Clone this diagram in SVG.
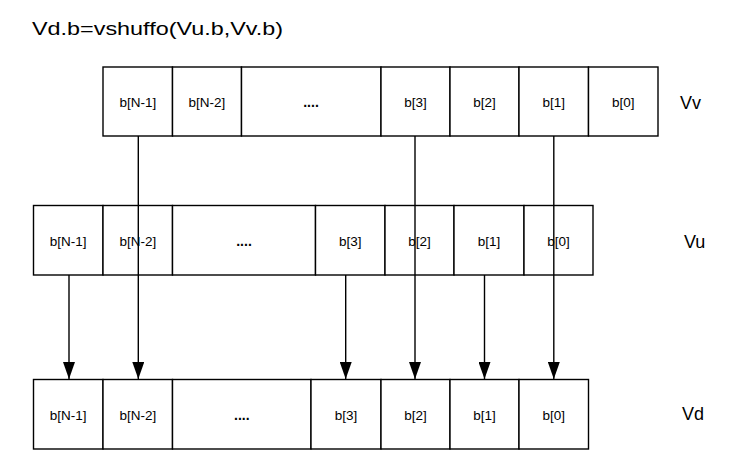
<svg xmlns="http://www.w3.org/2000/svg" width="731" height="461" viewBox="0 0 731 461">
<style>
.cell{fill:#fff;stroke:#000;stroke-width:1.4}
.t{font-family:"Liberation Sans",Arial,sans-serif;font-size:13.5px;text-anchor:middle;dominant-baseline:central;fill:#000}
.dots{font-family:"Liberation Sans",Arial,sans-serif;font-size:14px;font-weight:bold;text-anchor:middle;fill:#000}
.lbl{font-family:"Liberation Sans",Arial,sans-serif;font-size:18px;fill:#000;dominant-baseline:central}
.ttl{font-family:"Liberation Sans",Arial,sans-serif;font-size:18px;fill:#000}
.c{stroke:#000;stroke-width:1.4;fill:none}
</style>
<defs>
<marker id="ah" markerWidth="17" markerHeight="12" refX="17" refY="6" orient="auto" markerUnits="userSpaceOnUse" viewBox="0 0 17 12">
<path d="M0,0 L17,6 L0,12 Z" fill="#000"/>
</marker>
</defs>
<rect width="731" height="461" fill="#fff"/>
<text class="ttl" x="32" y="35" textLength="251" lengthAdjust="spacingAndGlyphs">Vd.b=vshuffo(Vu.b,Vv.b)</text>

<g id="Vv">
<rect class="cell" x="103" y="67" width="69.5" height="69"/>
<rect class="cell" x="172.5" y="67" width="69" height="69"/>
<rect class="cell" x="241.5" y="67" width="139.5" height="69"/>
<rect class="cell" x="381" y="67" width="69" height="69"/>
<rect class="cell" x="450" y="67" width="69" height="69"/>
<rect class="cell" x="519" y="67" width="69.5" height="69"/>
<rect class="cell" x="588.5" y="67" width="69.5" height="69"/>
<text class="t" x="137.8" y="102">b[N-1]</text>
<text class="t" x="207" y="102">b[N-2]</text>
<text class="dots" x="311" y="107">....</text>
<text class="t" x="415.5" y="102">b[3]</text>
<text class="t" x="484.5" y="102">b[2]</text>
<text class="t" x="553.8" y="102">b[1]</text>
<text class="t" x="623.2" y="102">b[0]</text>
<text class="lbl" x="680" y="103">Vv</text>
</g>

<g id="Vu">
<rect class="cell" x="33.5" y="205.5" width="69.5" height="69.5"/>
<rect class="cell" x="103" y="205.5" width="69.5" height="69.5"/>
<rect class="cell" x="172.5" y="205.5" width="143" height="69.5"/>
<rect class="cell" x="315.5" y="205.5" width="69.5" height="69.5"/>
<rect class="cell" x="385" y="205.5" width="69" height="69.5"/>
<rect class="cell" x="454" y="205.5" width="70" height="69.5"/>
<rect class="cell" x="524" y="205.5" width="69" height="69.5"/>
<text class="t" x="68.2" y="241">b[N-1]</text>
<text class="t" x="137.8" y="241">b[N-2]</text>
<text class="dots" x="244" y="246">....</text>
<text class="t" x="350.2" y="241">b[3]</text>
<text class="t" x="419.5" y="241">b[2]</text>
<text class="t" x="489" y="241">b[1]</text>
<text class="t" x="558.5" y="241">b[0]</text>
<text class="lbl" x="684" y="242">Vu</text>
</g>

<g id="Vd">
<rect class="cell" x="33.5" y="379.5" width="69.5" height="69.5"/>
<rect class="cell" x="103" y="379.5" width="69.5" height="69.5"/>
<rect class="cell" x="172.5" y="379.5" width="138.5" height="69.5"/>
<rect class="cell" x="311" y="379.5" width="70" height="69.5"/>
<rect class="cell" x="381" y="379.5" width="69" height="69.5"/>
<rect class="cell" x="450" y="379.5" width="69" height="69.5"/>
<rect class="cell" x="519" y="379.5" width="69.5" height="69.5"/>
<text class="t" x="68.2" y="415">b[N-1]</text>
<text class="t" x="137.8" y="415">b[N-2]</text>
<text class="dots" x="241.8" y="420">....</text>
<text class="t" x="346" y="415">b[3]</text>
<text class="t" x="415.5" y="415">b[2]</text>
<text class="t" x="484.5" y="415">b[1]</text>
<text class="t" x="553.8" y="415">b[0]</text>
<text class="lbl" x="682" y="414">Vd</text>
</g>

<g id="connectors">
<line class="c" x1="138.3" y1="136" x2="138.3" y2="379" marker-end="url(#ah)"/>
<line class="c" x1="415" y1="136" x2="415" y2="379" marker-end="url(#ah)"/>
<line class="c" x1="553.8" y1="136" x2="553.8" y2="379" marker-end="url(#ah)"/>
<line class="c" x1="69" y1="275" x2="69" y2="379" marker-end="url(#ah)"/>
<line class="c" x1="345.7" y1="275" x2="345.7" y2="379" marker-end="url(#ah)"/>
<line class="c" x1="484.5" y1="275" x2="484.5" y2="379" marker-end="url(#ah)"/>
</g>
</svg>
